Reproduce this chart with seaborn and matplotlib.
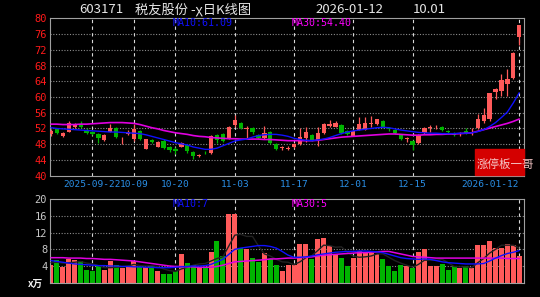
import matplotlib
matplotlib.use("Agg")
import matplotlib.pyplot as plt
import seaborn as sns
import numpy as np
from matplotlib.patches import Rectangle

# ---------------- data ----------------
opens = [50.6, 51.8, 50.1, 51.2, 52.4, 52.9, 51.6, 51.0, 50.6, 49.0,
         51.2, 52.2, 49.2, 50.6, 49.3, 51.4, 46.9, 49.0, 47.4, 48.9,
         47.2, 46.9, 47.4, 47.7, 46.0, 45.1, 46.1, 45.7, 50.3, 50.5,
         49.4, 52.8, 53.5, 51.9, 52.0, 50.4, 49.5, 51.1, 48.0, 47.0,
         46.9, 47.3, 48.0, 49.6, 50.3, 49.1, 50.9, 52.6, 52.5, 52.9,
         51.4, 50.2, 51.7, 51.7, 53.1, 53.2, 53.9, 52.2, 51.6, 50.4,
         49.3, 48.8, 48.2, 50.9, 52.1, 52.3, 52.4, 51.3, 50.9, 50.5,
         51.3, 50.9, 52.0, 53.8, 54.5, 61.3, 61.5, 63.4, 64.9, 75.3]
highs = [51.8, 52.2, 51.2, 53.9, 53.3, 53.8, 52.0, 51.3, 50.9, 50.6,
         53.1, 52.4, 49.8, 51.5, 53.1, 51.6, 49.4, 49.3, 48.9, 49.2,
         47.5, 47.3, 48.6, 48.0, 46.2, 45.6, 46.4, 50.4, 50.6, 50.8,
         52.6, 55.4, 53.7, 52.6, 52.3, 50.6, 52.6, 51.4, 48.3, 47.6,
         47.6, 48.4, 52.0, 52.4, 50.6, 52.4, 53.4, 54.1, 53.8, 53.1,
         51.6, 51.7, 54.8, 55.0, 55.1, 54.5, 54.2, 52.4, 51.9, 50.6,
         49.9, 49.0, 50.5, 52.5, 52.8, 52.9, 52.6, 51.5, 51.1, 51.0,
         52.2, 52.2, 55.8, 57.1, 61.0, 62.3, 65.8, 67.0, 71.4, 78.3]
lows = [50.2, 50.6, 49.9, 51.0, 52.0, 52.0, 50.6, 50.3, 48.2, 48.9,
        51.0, 49.6, 48.0, 50.3, 48.9, 49.0, 46.7, 48.3, 47.2, 46.8,
        46.0, 45.6, 47.2, 45.8, 44.3, 44.8, 45.5, 45.5, 48.2, 48.5,
        49.2, 52.5, 51.9, 49.3, 50.7, 49.2, 49.3, 48.0, 46.5, 46.6,
        46.5, 47.0, 47.8, 48.6, 48.9, 47.5, 50.6, 52.4, 52.3, 50.5,
        50.3, 50.0, 51.5, 51.5, 52.5, 53.0, 52.2, 51.4, 50.6, 49.0,
        48.6, 46.5, 48.0, 50.7, 51.2, 51.9, 51.3, 50.5, 50.0, 50.2,
        50.5, 50.3, 51.8, 53.5, 54.0, 59.6, 60.2, 60.2, 64.6, 73.2]
closes = [51.4, 50.9, 50.9, 53.5, 52.9, 52.3, 50.9, 50.6, 49.5, 50.3,
          52.2, 49.9, 49.4, 51.2, 51.8, 49.3, 49.2, 48.6, 48.6, 47.0,
          46.5, 46.4, 48.2, 46.2, 44.9, 45.3, 45.9, 50.1, 49.1, 48.9,
          52.4, 54.1, 52.1, 52.1, 51.0, 49.5, 50.9, 48.3, 46.8, 47.2,
          47.1, 48.1, 49.8, 51.1, 49.1, 50.8, 53.1, 53.2, 53.4, 50.8,
          50.7, 51.3, 53.2, 53.4, 53.3, 54.3, 52.4, 51.9, 50.9, 49.2,
          49.5, 47.7, 50.3, 52.2, 52.3, 52.5, 51.5, 51.0, 50.3, 50.8,
          50.9, 51.2, 54.3, 55.4, 60.9, 62.1, 64.3, 64.7, 71.2, 78.2]
ma10 = [52.2, 52.0, 51.9, 51.8, 51.7, 51.6, 51.5, 51.4, 51.3, 51.2,
        51.1, 51.1, 51.0, 50.9, 50.8, 50.7, 50.4, 50.0, 49.6, 49.2,
        48.8, 48.4, 48.1, 47.8, 47.3, 47.0, 46.7, 46.7, 47.0, 47.6,
        48.2, 48.8, 49.1, 49.3, 49.8, 50.2, 50.4, 50.5, 50.5, 50.3,
        50.0, 49.5, 49.2, 49.0, 48.9, 49.1, 49.3, 49.7, 50.2, 50.7,
        51.1, 51.4, 51.6, 51.8, 52.0, 52.2, 52.3, 52.2, 51.9, 51.6,
        51.4, 51.2, 51.0, 50.9, 50.8, 50.8, 50.7, 50.7, 50.7, 50.8,
        50.8, 50.9, 51.2, 51.7, 52.5, 53.5, 54.8, 56.2, 58.5, 61.09]
ma30 = [53.1, 53.1, 53.0, 53.0, 53.0, 53.1, 53.1, 53.2, 53.3, 53.4,
        53.5, 53.5, 53.5, 53.4, 53.3, 53.0, 52.6, 52.2, 51.9, 51.5,
        51.2, 50.9, 50.7, 50.5, 50.2, 50.0, 49.9, 49.7, 49.6, 49.5,
        49.4, 49.4, 49.3, 49.3, 49.3, 49.3, 49.2, 49.2, 49.1, 49.0,
        48.9, 48.9, 48.9, 48.9, 48.9, 49.0, 49.2, 49.4, 49.6, 49.8,
        49.9, 50.0, 50.1, 50.2, 50.3, 50.4, 50.5, 50.6, 50.6, 50.5,
        50.4, 50.3, 50.3, 50.4, 50.4, 50.5, 50.5, 50.6, 50.6, 50.7,
        50.8, 50.9, 51.3, 51.7, 52.1, 52.5, 52.9, 53.3, 53.8, 54.40]
volume = [4.3, 5.5, 3.7, 5.7, 5.5, 5.3, 3.1, 2.7, 3.9, 3.1,
          5.3, 4.3, 3.5, 3.9, 5.2, 3.7, 3.7, 3.9, 2.9, 2.1,
          2.1, 2.7, 6.9, 4.8, 4.3, 3.7, 3.7, 7.3, 10.0, 6.5,
          16.5, 16.5, 8.3, 8.1, 6.0, 4.9, 7.2, 5.7, 4.3, 2.9,
          4.3, 4.3, 9.2, 9.2, 5.6, 10.4, 10.7, 8.8, 6.9, 6.0,
          4.1, 6.0, 7.7, 7.1, 7.1, 6.8, 5.7, 3.9, 2.9, 4.3,
          3.9, 3.6, 7.3, 8.1, 4.1, 4.1, 4.5, 3.1, 3.9, 3.6,
          4.1, 3.5, 9.0, 9.0, 10.0, 8.4, 8.4, 9.4, 9.0, 6.5]
vol_ma5 = [4.8, 4.9, 4.7, 4.8, 4.9, 5.1, 4.7, 4.5, 4.1, 3.6,
           3.6, 3.7, 3.8, 4.0, 4.4, 4.1, 4.0, 4.1, 3.9, 3.3,
           2.9, 2.7, 3.3, 3.7, 4.2, 4.5, 4.6, 5.2, 5.8, 6.2,
           8.8, 11.4, 11.6, 11.1, 11.1, 8.8, 6.9, 6.4, 5.6, 5.0,
           4.9, 4.3, 5.0, 6.0, 6.5, 7.7, 9.0, 8.9, 8.5, 8.6,
           7.3, 6.4, 6.1, 6.2, 6.4, 6.9, 6.9, 6.1, 5.3, 4.7,
           4.2, 3.7, 4.4, 5.4, 5.4, 5.4, 5.6, 4.8, 3.9, 3.8,
           3.8, 3.6, 4.8, 5.8, 7.1, 8.0, 9.0, 9.0, 9.0, 8.3]
vol_ma10 = [5.3, 5.1, 4.9, 4.7, 4.5, 4.4, 4.3, 4.2, 4.1, 4.1,
            4.0, 4.0, 3.9, 3.9, 3.8, 3.8, 3.7, 3.7, 3.6, 3.6,
            3.6, 3.7, 3.8, 3.9, 4.0, 4.0, 4.1, 4.4, 5.0, 5.6,
            6.8, 8.0, 8.3, 8.5, 8.7, 8.9, 8.9, 8.7, 8.3, 7.5,
            6.6, 6.1, 6.1, 6.2, 6.4, 6.7, 6.9, 7.1, 7.3, 7.4,
            7.5, 7.5, 7.6, 7.6, 7.5, 7.4, 7.2, 6.8, 6.4, 6.0,
            5.8, 5.7, 5.6, 5.7, 5.6, 5.3, 5.0, 4.8, 4.7, 4.6,
            4.5, 4.5, 4.5, 4.6, 5.2, 5.9, 6.5, 7.0, 7.3, 7.7]
vol_ma30 = [6.0, 6.0, 6.0, 5.9, 5.9, 5.9, 5.8, 5.8, 5.7, 5.6,
            5.6, 5.5, 5.4, 5.3, 5.2, 5.0, 4.8, 4.6, 4.4, 4.2,
            4.0, 3.9, 3.9, 3.8, 3.8, 3.7, 3.7, 3.7, 3.9, 4.2,
            4.6, 5.0, 5.1, 5.2, 5.3, 5.4, 5.5, 5.7, 5.7, 5.8,
            5.9, 5.9, 6.0, 6.1, 6.2, 6.4, 6.6, 6.7, 6.8, 6.9,
            7.0, 7.1, 7.2, 7.2, 7.3, 7.4, 7.5, 7.5, 7.2, 6.9,
            6.6, 6.3, 6.2, 6.1, 6.0, 5.9, 5.9, 5.9, 5.9, 5.9,
            5.9, 5.9, 5.9, 5.9, 5.9, 5.9, 5.9, 5.8, 5.8, 5.8]
date_tick_idx = [7, 14, 21, 31, 41, 51, 61, 79]
date_tick_labels = ["2025-09-22", "10-09", "10-20", "11-03", "11-17",
                    "12-01", "12-15", "2026-01-12"]
price_ticks = [40, 44, 48, 52, 56, 60, 64, 68, 72, 76, 80]
vol_ticks = [4, 8, 12, 16, 20]
title_code = "603171"
title_name = "税友股份 -χ日K线图"
title_date = "2026-01-12"
title_chg = "10.01"
ma_price_labels = ["MA10:61.09", "MA30:54.40"]
ma_vol_labels = ["MA10:7", "MA30:5"]
badge_text = "涨停板一哥"
vol_unit = "x万"

# ---------------- style ----------------
sns.set_theme(style="dark", rc={"axes.facecolor": "black",
                                "figure.facecolor": "black"})
plt.rcParams["font.family"] = ["Noto Sans CJK SC", "DejaVu Sans"]

RED = "#ff5a5a"
GREEN = "#00b400"
BLUE = "#1010ff"
MAG = "#e000e0"
MONO = "DejaVu Sans Mono"
W, H = 540, 297

n = len(closes)
x = np.arange(n)
o = np.array(opens); c = np.array(closes)
hi = np.array(highs); lo = np.array(lows)
up = c >= o
cols = np.where(up, RED, GREEN)

fig = plt.figure(figsize=(5.4, 2.97), dpi=100, facecolor="black")
ax = fig.add_axes([50 / W, 1 - 175.7 / H, 474 / W, 157.4 / H])
axv = fig.add_axes([50 / W, 1 - 282.7 / H, 474 / W, 83.4 / H])

for a in (ax, axv):
    a.set_facecolor("black")
    for s in a.spines.values():
        s.set_color("#a0a0a0")
        s.set_linewidth(0.8)
    a.tick_params(length=0)
    a.grid(False)

# ---------------- price panel ----------------
for t in price_ticks[1:-1]:
    ax.axhline(t, color="#8c8c8c", lw=0.8, ls=(0, (1, 1.5)), zorder=0)
for t in date_tick_idx:
    ax.axvline(t, color="#d8d8d8", lw=0.8, ls=(0, (3, 3)), zorder=0)
    axv.axvline(t, color="#d8d8d8", lw=0.8, ls=(0, (3, 3)), zorder=0)

ax.vlines(x, lo, hi, colors=cols, lw=0.9, zorder=2)
body_bot = np.minimum(o, c)
body_h = np.maximum(np.abs(c - o), 0.12)
ax.bar(x, body_h, bottom=body_bot, width=0.72, color=cols, lw=0, zorder=3)

sns.lineplot(x=x, y=ma30, ax=ax, color=MAG, lw=1.2, zorder=4)
sns.lineplot(x=x, y=ma10, ax=ax, color=BLUE, lw=1.0, zorder=5)

ax.set_xlim(-0.17, 79.8)
ax.set_ylim(40, 80)
ax.set_yticks(price_ticks)
ax.set_yticklabels([str(t) for t in price_ticks], color="#ff1a1a",
                   fontsize=7.5, family=MONO)
ax.set_xticks(date_tick_idx)
ax.set_xticklabels(date_tick_labels, color="#2a8fe6", fontsize=6.8,
                   family=MONO)
ax.get_xticklabels()[-1].set_ha("right")
ax.tick_params(axis="x", pad=3)
ax.tick_params(axis="y", pad=2)
ax.set_xlabel(""); ax.set_ylabel("")

ax.add_patch(Rectangle((0.897, 0.004), 0.103, 0.166, transform=ax.transAxes,
                       color="#d40000", zorder=6, clip_on=False))
fig.text(477 / W, 1 - 164 / H, badge_text, color="#f4c4c4", fontsize=8.3,
         va="center", ha="left", zorder=7)

# ---------------- volume panel ----------------
for t in vol_ticks[:-1]:
    axv.axhline(t, color="#8c8c8c", lw=0.8, ls=(0, (1, 1.5)), zorder=0)

axv.bar(x, volume, width=0.84, color=cols, lw=0, zorder=2)
sns.lineplot(x=x, y=vol_ma5, ax=axv, color="#222222", lw=1.0, zorder=3)
sns.lineplot(x=x, y=vol_ma30, ax=axv, color=MAG, lw=1.1, zorder=4)
sns.lineplot(x=x, y=vol_ma10, ax=axv, color=BLUE, lw=1.0, zorder=5)

axv.set_xlim(-0.17, 79.8)
axv.set_ylim(0, 20)
axv.set_xticks([])
axv.set_yticks(vol_ticks)
axv.set_yticklabels([str(t) for t in vol_ticks], color="#c8c8c8",
                    fontsize=7.5, family=MONO)
axv.tick_params(axis="y", pad=2)
axv.set_xlabel(""); axv.set_ylabel("")

# ---------------- texts ----------------
def ftext(px, py, s, **kw):
    fig.text(px / W, 1 - py / H, s, va="center", ha="left", **kw)

ftext(79, 9.5, title_code, color="#e6e6e6", fontsize=9.5)
ftext(135, 9.5, title_name, color="#e6e6e6", fontsize=9.5)
ftext(315, 9.5, title_date, color="#e6e6e6", fontsize=9.5)
ftext(413, 9.5, title_chg, color="#e6e6e6", fontsize=9.5)
ftext(173, 23, ma_price_labels[0], color=BLUE, fontsize=7.2, family=MONO)
ftext(292, 23, ma_price_labels[1], color="#ff00ff", fontsize=7.2, family=MONO)
ftext(173, 204, ma_vol_labels[0], color=BLUE, fontsize=7.2, family=MONO)
ftext(292, 204, ma_vol_labels[1], color="#ff00ff", fontsize=7.2, family=MONO)
ftext(28, 284, vol_unit, color="#f0f0f0", fontsize=7, fontweight="bold")

fig.savefig("out.png", dpi=100, facecolor="black")
